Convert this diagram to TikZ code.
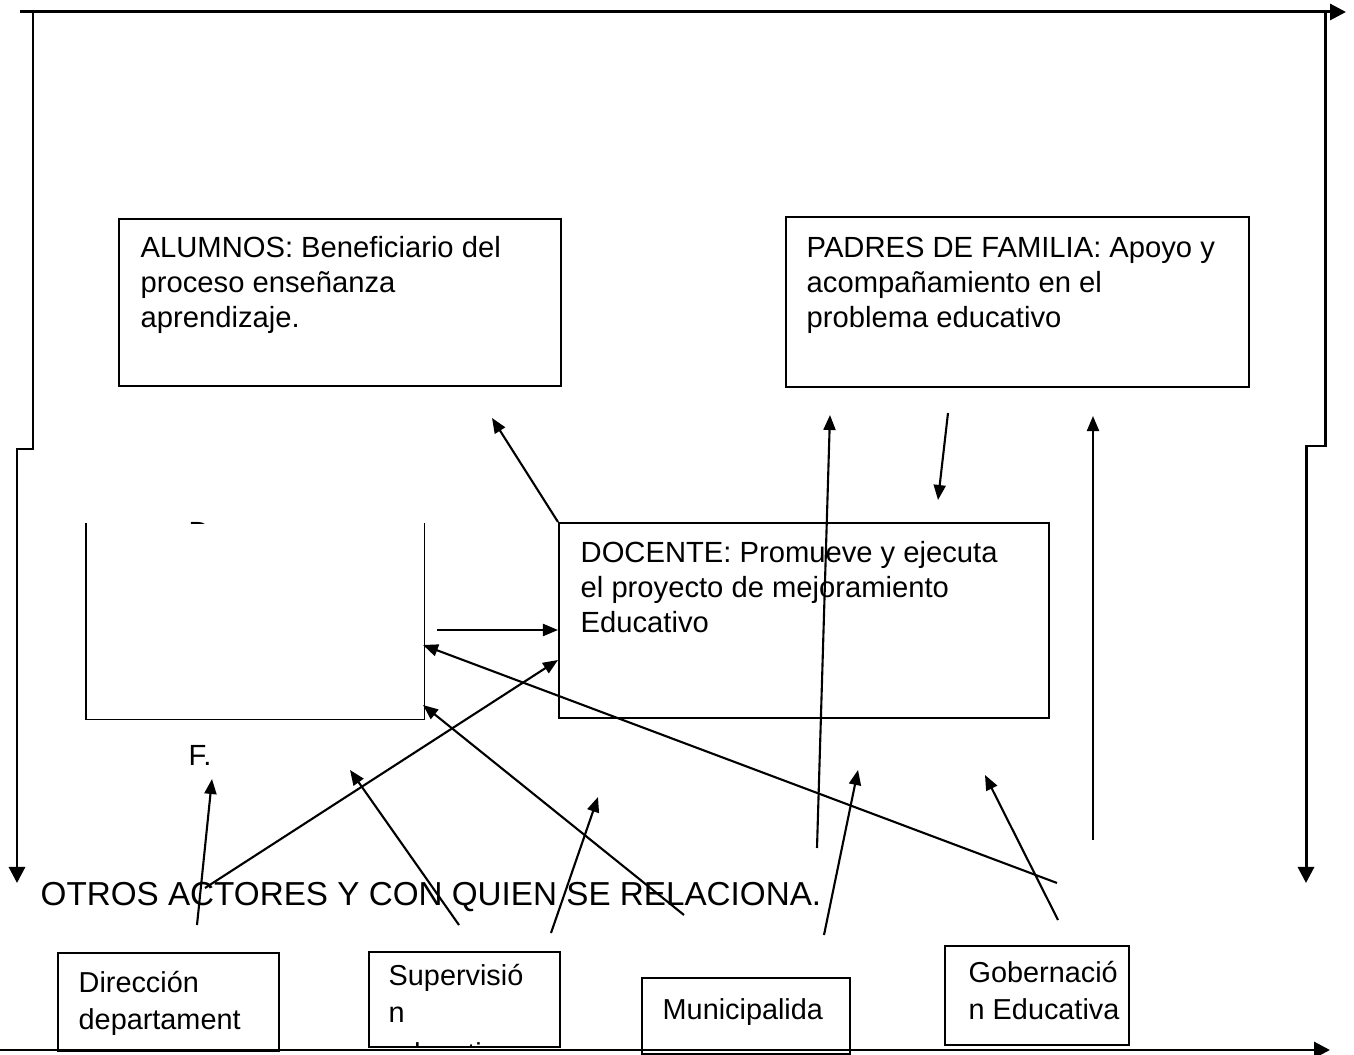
\documentclass[tikz,border=0pt]{standalone}
\usepackage{fontspec}
\setmainfont{Liberation Sans}
\usetikzlibrary{positioning, arrows.meta}
\tikzset{caja/.style={draw, rectangle, line width=0.5pt, anchor=north west, inner sep=0pt},
         texto/.style={anchor=north west, inner sep=0pt, align=left,
                       font=\fontsize{8.3}{9.96}\selectfont},
         textob/.style={texto, font=\fontsize{8.2}{10.5}\selectfont},
         flecha/.style={line width=0.6pt, -{Triangle[length=0.15cm, width=0.12cm]}},
         marco/.style={line width=0.85pt, -{Triangle[length=0.16cm, width=0.16cm]}}}

\begin{document}
\begin{tikzpicture}[x=0.01cm, y=-0.01cm]
        \useasboundingbox (0,0) rectangle (1354,1055);

        % Nodes
        \node[caja, minimum width=4.42cm, minimum height=1.67cm] (alumnos) at (118,218) {};
        \node[texto] (talumnos) at (140,236) {ALUMNOS: Beneficiario del\\proceso enseñanza\\aprendizaje.};
        \node[caja, minimum width=4.63cm, minimum height=1.70cm] (padres) at (785,216) {};
        \node[texto] (tpadres) at (806,236) {PADRES DE FAMILIA: Apoyo y\\acompañamiento en el\\problema educativo};
        \node[caja, minimum width=4.90cm, minimum height=1.95cm] (docente) at (558,522) {};
        \node[texto] (tdocente) at (580,541) {DOCENTE: Promueve y ejecuta\\el proyecto de mejoramiento\\Educativo};

        \node[anchor=north west, inner sep=0pt, minimum width=3.37cm, minimum height=1.95cm] (izq) at (86,523) {};
        \begin{scope}
            \clip (150,500) rectangle (260,524);
            \node[texto, anchor=base west] (letrad) at (188,543) {D};
        \end{scope}
        \node[texto, anchor=base west] (letraf) at (188,765) {F.};

        \node[texto, anchor=base west, font=\fontsize{9.45}{11}\selectfont] (otros) at (40,906) {OTROS ACTORES Y CON QUIEN SE RELACIONA.};

        \node[caja, minimum width=2.21cm, minimum height=0.98cm] (direccion) at (57,952) {};
        \node[textob] (tdireccion) at (78,971) {Dirección\\departament};
        \node[caja, minimum width=1.91cm, minimum height=0.95cm] (supervision) at (368,951) {};
        \node[textob] (tsupervision) at (388,964) {Supervisió\\n};
        \begin{scope}
            \clip (368,951) rectangle (559,1045);
            \node[textob, anchor=base west] (tsupervision2) at (388,1063) {educativa};
        \end{scope}
        \node[caja, minimum width=2.08cm, minimum height=0.76cm] (municipal) at (641,977) {};
        \node[textob] (tmunicipal) at (662,998) {Municipalida};
        \node[caja, minimum width=1.84cm, minimum height=0.99cm] (gobernacion) at (944,945) {};
        \node[textob] (tgobernacion) at (968,961) {Gobernació\\n Educativa};

        % Coordinates
        \coordinate (m1) at (20,12);   \coordinate (m2) at (1346,12);
        \coordinate (m3) at (33,12);   \coordinate (m4) at (17,883);
        \coordinate (m5) at (1325,12); \coordinate (m6) at (1306,883);
        \coordinate (m7) at (0,1050);  \coordinate (m8) at (1330,1050);
        \coordinate (p1) at (492,418);
        \coordinate (p2) at (948,413);  \coordinate (q2) at (938,500);
        \coordinate (p3) at (1093,840); \coordinate (q3) at (1093,416);
        \coordinate (p4) at (817,848);  \coordinate (q4) at (830,415);
        \coordinate (p5) at (437,630);  \coordinate (q5) at (558,630);
        \coordinate (p6) at (1057,883); \coordinate (q6) at (423,645);
        \coordinate (p7) at (684,915);  \coordinate (q7) at (423,705);
        \coordinate (p8) at (197,925);  \coordinate (q8) at (212,779);
        \coordinate (p9) at (205,888);  \coordinate (q9) at (558,660);
        \coordinate (p10) at (459,925); \coordinate (q10) at (350,770);
        \coordinate (p11) at (551,933); \coordinate (q11) at (598,797);
        \coordinate (p12) at (824,935); \coordinate (q12) at (858,770);
        \coordinate (p13) at (1058,920); \coordinate (q13) at (985,775);

        % Edges
        \draw[line width=0.5pt] (izq.north west) |- (izq.south east) -- (izq.north east);
        \draw[marco] (m1) -- (m2);
        \draw[marco] (m3) -- (33,449) -- (17,449) -- (m4);
        \draw[marco] (m5) -- (1325,446) -- (1306,446) -- (m6);
        \draw[marco] (m7) -- (m8);
        \draw[flecha] (docente.north west) -- (p1);
        \draw[flecha] (p2) -- (q2);
        \draw[flecha] (p3) -- (q3);
        \draw[flecha] (p4) -- (q4);
        \draw[flecha] (p5) -- (q5);
        \draw[flecha] (p6) -- (q6);
        \draw[flecha] (p7) -- (q7);
        \draw[flecha] (p8) -- (q8);
        \draw[flecha] (p9) -- (q9);
        \draw[flecha] (p10) -- (q10);
        \draw[flecha] (p11) -- (q11);
        \draw[flecha] (p12) -- (q12);
        \draw[flecha] (p13) -- (q13);
    \end{tikzpicture}
\end{document}
